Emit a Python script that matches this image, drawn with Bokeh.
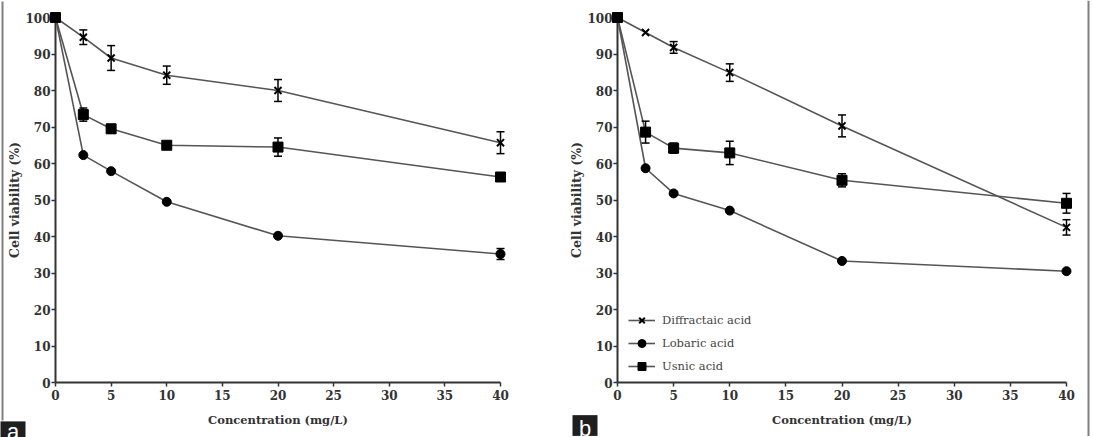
from bokeh.plotting import figure
from bokeh.layouts import row
from bokeh.models import Range1d, FixedTicker, Legend, LegendItem
from bokeh.core.properties import value
from bokeh.embed import file_html
from bokeh.resources import INLINE

# Concentration of each treatment (mg/L)
conc = [0, 2.5, 5, 10, 20, 40]

# Panel a: cell viability (%) and error
a_diffractaic = [100, 94.6, 88.9, 84.2, 80.0, 65.7]
a_diffractaic_err = [0, 2.0, 3.4, 2.5, 3.0, 3.0]
a_lobaric = [100, 62.3, 57.9, 49.5, 40.2, 35.2]
a_lobaric_err = [0, 0, 0, 0, 0, 1.5]
a_usnic = [100, 73.4, 69.5, 65.0, 64.5, 56.3]
a_usnic_err = [0, 1.8, 1.2, 0.8, 2.5, 0.8]

# Panel b: cell viability (%) and error
b_diffractaic = [100, 95.9, 91.8, 84.9, 70.3, 42.5]
b_diffractaic_err = [0, 0, 1.6, 2.4, 3.0, 2.1]
b_lobaric = [100, 58.7, 51.8, 47.1, 33.3, 30.5]
b_lobaric_err = [0, 0, 0, 0, 0, 0]
b_usnic = [100, 68.6, 64.2, 62.9, 55.4, 49.1]
b_usnic_err = [0, 3.0, 1.4, 3.2, 1.8, 2.7]

series_names = ["Diffractaic acid", "Lobaric acid", "Usnic acid"]
y_ticks = [0, 10, 20, 30, 40, 50, 60, 70, 80, 90, 100]
x_ticks = [0, 5, 10, 15, 20, 25, 30, 35, 40]

SERIF = "DejaVu Serif"
TEXT = "#333333"
LINE = "#555555"
HEIGHT = 437


def make_panel(width, left, right, top, bottom, data, tag, tag_box, tag_baseline,
               borders=(), legend=False):
    frame_w = width - left - right
    frame_h = HEIGHT - top - bottom
    p = figure(width=width, height=HEIGHT, x_range=Range1d(0, 40), y_range=Range1d(0, 100),
               output_backend="svg", toolbar_location=None,
               min_border_left=left, min_border_right=right,
               min_border_top=top, min_border_bottom=bottom)
    p.outline_line_color = None
    p.grid.visible = False
    p.background_fill_color = "white"
    p.border_fill_color = "white"

    # canvas pixel -> data coordinate, for the decorations around the frame
    def dx(px):
        return (px - left) * 40 / frame_w

    def dy(py):
        return (top + frame_h - py) * 100 / frame_h

    for ax, ticks in ((p.xaxis, x_ticks), (p.yaxis, y_ticks)):
        ax.ticker = FixedTicker(ticks=ticks)
        ax.axis_line_width = 2
        ax.axis_line_color = "#333333"
        ax.major_tick_line_color = "#333333"
        ax.major_tick_line_width = 1.5
        ax.major_tick_out = 4
        ax.major_tick_in = 0
        ax.minor_tick_line_color = None
        ax.major_label_text_font = SERIF
        ax.major_label_text_font_style = "bold"
        ax.major_label_text_font_size = "12px"
        ax.major_label_text_color = TEXT
        ax.axis_label_text_font = SERIF
        ax.axis_label_text_font_style = "bold"
        ax.axis_label_text_color = TEXT
    p.xaxis.major_label_standoff = 3
    p.yaxis.major_label_standoff = 1
    p.xaxis.axis_label = "Concentration (mg/L)"
    p.yaxis.axis_label = "Cell viability (%)"
    p.xaxis.axis_label_text_font_size = "11.5px"
    p.yaxis.axis_label_text_font_size = "12.5px"
    p.xaxis.axis_label_standoff = 10
    p.yaxis.axis_label_standoff = 0

    (dif, dif_e), (lob, lob_e), (usn, usn_e) = data
    markers = [("x", 10, dif, dif_e), ("circle", 9, lob, lob_e), ("square", 10, usn, usn_e)]
    line_rs = [p.line(conc, ys, line_color=LINE, line_width=1.6, level="overlay")
               for _, _, ys, _ in markers]
    items = []
    for name, lr, (mk, sz, ys, es) in zip(series_names, line_rs, markers):
        # error bars: vertical stem plus a cap at each end
        xs = [x for x, e in zip(conc, es) if e > 0]
        up = [y + e for y, e in zip(ys, es) if e > 0]
        lo = [y - e for y, e in zip(ys, es) if e > 0]
        if xs:
            p.segment(x0=xs, y0=lo, x1=xs, y1=up, line_color="black", line_width=1.5,
                      level="overlay")
            p.scatter(xs + xs, up + lo, marker="dash", size=8, line_color="black",
                      line_width=1.5, level="overlay")
        sr = p.scatter(conc, ys, marker=mk, size=sz, fill_color="black",
                       line_color="black", line_width=2 if mk == "x" else 1, level="overlay")
        items.append(LegendItem(label=name, renderers=[lr, sr]))

    if legend:
        lg = Legend(items=items, location=(11, 6), padding=0, margin=0, spacing=3,
                    glyph_width=27, glyph_height=20, label_height=20, label_standoff=7,
                    label_text_font=SERIF, label_text_font_size="11.5px",
                    label_text_color="#444444", background_fill_alpha=0,
                    border_line_color=None)
        p.add_layout(lg)

    # panel frame edges (gray rules)
    for (x0, x1, y0, y1) in borders:
        p.quad(left=[dx(x0)], right=[dx(x1)], top=[dy(y0)], bottom=[dy(y1)],
               fill_color="#808080", line_color=None, level="overlay")
    # panel tag in the bottom-left corner
    x0, x1, y0, y1 = tag_box
    p.quad(left=[dx(x0)], right=[dx(x1)], top=[dy(y0)], bottom=[dy(y1)],
           fill_color="#1f1f1f", line_color=None, level="overlay")
    p.text(x=[dx((x0 + x1) / 2)], y=[dy(tag_baseline)], text=[tag], text_align="center",
           text_baseline="alphabetic", text_font=value("Liberation Sans"),
           text_font_size=value("22px"), text_color="white", level="overlay")
    return p


# Panel a: frame spans x 55..500 px, y 16..382 px
pa = make_panel(546, 55, 46, 16, 55,
                [(a_diffractaic, a_diffractaic_err), (a_lobaric, a_lobaric_err), (a_usnic, a_usnic_err)],
                "a", (0, 25, 421, 440), 431, borders=[(1, 3, 0, 420)])

# Panel b: frame spans x 71..520 px (local), y 17..386 px
pb = make_panel(547, 71, 27, 17, 51,
                [(b_diffractaic, b_diffractaic_err), (b_lobaric, b_lobaric_err), (b_usnic, b_usnic_err)],
                "b", (26, 51, 419, 440), 433, borders=[(541, 543, 0, 440)], legend=True)

layout = row(pa, pb)
open("out.html", "w").write(file_html(layout, INLINE))
